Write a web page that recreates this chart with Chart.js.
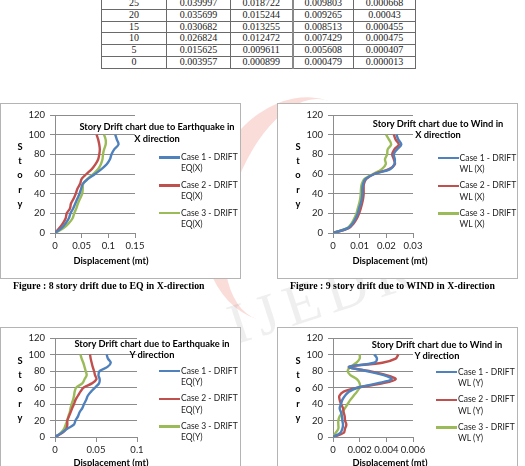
<!DOCTYPE html>
<html>
<head>
<meta charset="utf-8">
<script src="https://cdn.jsdelivr.net/npm/chart.js@4.4.1/dist/chart.umd.min.js"></script>
<style>
  html, body { margin: 0; padding: 0; background: #fff; }
  body { width: 525px; height: 466px; position: relative; overflow: hidden; font-family: Lato, "Open Sans", sans-serif; color: #000; }
  .box { position: absolute; width: 241px; background: #fff; outline: 1px solid #b4b4b4; outline-offset: -1px; }
  .box canvas { position: absolute; left: 0; top: 0; }
  .ttl { position: absolute; font-weight: bold; font-size: 9.3px; line-height: 11.7px; text-align: center; white-space: nowrap; transform: translateX(-50%); }
  .ylab { position: absolute; font-weight: bold; font-size: 9.3px; line-height: 14.2px; text-align: center; width: 10px; margin-left: -5px; }
  .xlab { position: absolute; font-weight: bold; font-size: 9.3px; line-height: 12px; white-space: nowrap; transform: translateX(-50%); }
  .leg { position: absolute; font-size: 8.5px; line-height: 11.3px; }
  .leg .item { position: relative; height: 27.8px; }
  .leg .sw { position: absolute; left: 0; top: 4.4px; width: 21px; height: 2.5px; }
  .leg .tx { position: absolute; left: 22px; top: 0; white-space: nowrap; color: #222; }
  .cap { position: absolute; font-family: "Liberation Serif", serif; font-weight: bold; font-size: 9.8px; white-space: nowrap; line-height: 12px; }
  table.data { position: absolute; left: 101px; top: -3px; border-collapse: collapse; table-layout: fixed; font-family: "Liberation Serif", serif; font-size: 10px; }
  table.data td { border: 1px solid #6a6a6a; height: 10.8px; line-height: 10.8px; padding: 0; text-align: center; color: #222; }
  .wm1 { position: absolute; left: 205px; top: 95px; width: 150px; height: 230px; border-radius: 50%; border-left: 26px solid rgba(232, 96, 84, 0.22); transform: rotate(18deg); }
  .wm2 { position: absolute; left: 225px; top: 262px; font-family: "Liberation Serif", serif; font-size: 58px; color: rgba(120, 120, 120, 0.12); transform: rotate(-18deg); letter-spacing: 8px; }
</style>
</head>
<body>

<div class="wm1"></div>
<div class="wm2">IJEDR</div>

<table class="data" id="tbl">
  <colgroup><col style="width:65px"><col style="width:64px"><col style="width:62px"><col style="width:61px"><col style="width:62px"></colgroup>
  <tbody></tbody>
</table>

<div class="box" id="b1" style="left:0px; top:103px; height:176px;">
  <canvas id="c1" width="241" height="176"></canvas>
  <div class="ttl" style="left:157px; top:18px;">Story Drift chart due to Earthquake in<br>X direction</div>
  <div class="ylab" style="left:20px; top:37px;">S<br>t<br>o<br>r<br>y</div>
  <div class="xlab" style="left:111px; top:152px;">Displacement (mt)</div>
  <div class="leg" id="l1" style="left:159px; top:49px;"></div>
</div>

<div class="box" id="b2" style="left:277px; top:103px; height:176px;">
  <canvas id="c2" width="241" height="176"></canvas>
  <div class="ttl" style="left:161px; top:14.5px;">Story Drift chart due to Wind in<br>X direction</div>
  <div class="ylab" style="left:21px; top:37px;">S<br>t<br>o<br>r<br>y</div>
  <div class="xlab" style="left:113px; top:152px;">Displacement (mt)</div>
  <div class="leg" id="l2" style="left:160.5px; top:49.5px;"></div>
</div>

<div class="cap" style="left:13px; top:280px;">Figure : 8 story drift due to EQ in X-direction</div>
<div class="cap" style="left:290px; top:280px;">Figure : 9 story drift due to WIND in X-direction</div>

<div class="box" id="b3" style="left:0px; top:327px; height:160px;">
  <canvas id="c3" width="241" height="160"></canvas>
  <div class="ttl" style="left:152px; top:10.5px;">Story Drift chart due to Earthquake in<br>Y direction</div>
  <div class="ylab" style="left:20px; top:27px;">S<br>t<br>o<br>r<br>y</div>
  <div class="xlab" style="left:111px; top:130px;">Displacement (mt)</div>
  <div class="leg" id="l3" style="left:159px; top:38.5px;"></div>
</div>

<div class="box" id="b4" style="left:277px; top:327px; height:160px;">
  <canvas id="c4" width="241" height="160"></canvas>
  <div class="ttl" style="left:160px; top:11.5px;">Story Drift chart due to Wind in<br>Y direction</div>
  <div class="ylab" style="left:21px; top:27px;">S<br>t<br>o<br>r<br>y</div>
  <div class="xlab" style="left:113px; top:130px;">Displacement (mt)</div>
  <div class="leg" id="l4" style="left:159px; top:39.5px;"></div>
</div>

<script>
// table rows (top of the page)
const tblStory = ['25', '20', '15', '10', '5', '0'];
const tblCol1 = ['0.039997', '0.035699', '0.030682', '0.026824', '0.015625', '0.003957'];
const tblCol2 = ['0.018722', '0.015244', '0.013255', '0.012472', '0.009611', '0.000899'];
const tblCol3 = ['0.009803', '0.009265', '0.008513', '0.007429', '0.005608', '0.000479'];
const tblCol4 = ['0.000668', '0.00043', '0.000455', '0.000475', '0.000407', '0.000013'];

// story levels (y) shared by all charts
const stories = [0, 5, 10, 15, 20, 25, 30, 35, 40, 45, 50, 55, 60, 65, 70, 75, 80, 85, 90, 95, 100];
const storyTicks = [0, 20, 40, 60, 80, 100, 120];
const caseNames = ['Case 1 - DRIFT', 'Case 2 - DRIFT', 'Case 3 - DRIFT'];
const caseColors = ['#4F81BD', '#C0504D', '#9BBB59'];

// Fig 8 - EQ in X
const eqxTicks = [0, 0.05, 0.1, 0.15];
const eqxCase1 = [0, 0.012, 0.02, 0.026, 0.029, 0.034, 0.038, 0.042, 0.046, 0.049, 0.052, 0.062, 0.075, 0.087, 0.097, 0.103, 0.106, 0.111, 0.119, 0.116, 0.113];
const eqxCase2 = [0, 0.008, 0.015, 0.02, 0.022, 0.028, 0.03, 0.035, 0.039, 0.042, 0.047, 0.05, 0.059, 0.069, 0.076, 0.081, 0.083, 0.084, 0.083, 0.081, 0.078];
const eqxCase3 = [0, 0.016, 0.026, 0.033, 0.036, 0.04, 0.043, 0.047, 0.051, 0.052, 0.053, 0.061, 0.072, 0.081, 0.086, 0.089, 0.09, 0.092, 0.095, 0.095, 0.092];

// Fig 9 - WIND in X
const wlxTicks = [0, 0.01, 0.02, 0.03];
const wlxCase1 = [0, 0.0056, 0.0074, 0.0085, 0.0093, 0.0098, 0.0104, 0.0108, 0.011, 0.011, 0.0113, 0.0122, 0.0155, 0.0215, 0.023, 0.0232, 0.0228, 0.024, 0.0256, 0.0245, 0.0238];
const wlxCase2 = [0, 0.0059, 0.0078, 0.009, 0.0098, 0.0104, 0.0109, 0.0113, 0.0115, 0.0115, 0.0116, 0.0125, 0.0155, 0.021, 0.0232, 0.0228, 0.0222, 0.023, 0.0247, 0.0235, 0.0228];
const wlxCase3 = [0, 0.0053, 0.007, 0.008, 0.0088, 0.0093, 0.0098, 0.0102, 0.0104, 0.0105, 0.0108, 0.0118, 0.015, 0.0183, 0.0198, 0.0195, 0.0203, 0.0205, 0.0218, 0.021, 0.0199];

// EQ in Y
const eqyTicks = [0, 0.05, 0.1];
const eqyCase1 = [0, 0.008, 0.015, 0.023, 0.025, 0.028, 0.03, 0.0333, 0.0354, 0.038, 0.04, 0.044, 0.049, 0.0537, 0.0545, 0.053, 0.0545, 0.064, 0.068, 0.0646, 0.063];
const eqyCase2 = [0, 0.009, 0.0138, 0.015, 0.015, 0.017, 0.019, 0.021, 0.0232, 0.025, 0.028, 0.031, 0.035, 0.045, 0.0505, 0.0488, 0.0476, 0.046, 0.0447, 0.0435, 0.0427];
const eqyCase3 = [0, 0.007, 0.011, 0.013, 0.015, 0.0163, 0.018, 0.019, 0.0203, 0.022, 0.0232, 0.024, 0.026, 0.0333, 0.036, 0.0386, 0.0374, 0.036, 0.0345, 0.0325, 0.031];

// WIND in Y
const wlyTicks = [0, 0.002, 0.004, 0.006];
const wlyCase1 = [0, 0.00055, 0.0007, 0.00075, 0.0007, 0.00068, 0.0006, 0.0005, 0.0006, 0.0007, 0.0009, 0.0012, 0.0019, 0.0033, 0.0044, 0.0038, 0.0025, 0.0012, 0.0031, 0.0033, 0.0031];
const wlyCase2 = [0, 0.0008, 0.0009, 0.001, 0.0009, 0.00088, 0.0008, 0.00075, 0.0006, 0.0005, 0.00048, 0.0008, 0.0019, 0.0037, 0.0047, 0.004, 0.0027, 0.0012, 0.0037, 0.0047, 0.0049];
const wlyCase3 = [0, 0.0002, 0.0004, 0.0004, 0.0004, 0.0005, 0.0007, 0.0009, 0.0011, 0.0013, 0.00155, 0.0018, 0.002, 0.002, 0.0018, 0.0013, 0.0011, 0.0013, 0.00175, 0.002, 0.002];

// fill the table
const tbody = document.querySelector('#tbl tbody');
tblStory.forEach((s, i) => {
  const tr = document.createElement('tr');
  [s, tblCol1[i], tblCol2[i], tblCol3[i], tblCol4[i]].forEach((v, k) => {
    const td = document.createElement('td');
    td.textContent = v;
    if (k === 3) td.style.borderLeft = '2px solid #8a8a8a';
    tr.appendChild(td);
  });
  tbody.appendChild(tr);
});

const tickFont = { family: 'Lato', size: 9.5 };
const axisGray = '#8c8c8c';

function drawChart(canvasId, legendId, xTicks, series, tag, area) {
  const cv = document.getElementById(canvasId);
  const W = cv.width, H = cv.height;
  const datasets = series.map((vals, i) => ({
    label: caseNames[i] + ' ' + tag,
    data: vals.map((v, k) => ({ x: v, y: stories[k] })),
    showLine: true,
    borderColor: caseColors[i],
    backgroundColor: caseColors[i],
    borderWidth: 2.4,
    pointRadius: 0,
    tension: 0.35,
    fill: false
  }));

  new Chart(cv, {
    type: 'scatter',
    data: { datasets: datasets },
    options: {
      responsive: false,
      animation: false,
      layout: { padding: { top: area.top, right: W - area.right, bottom: 0, left: 0 } },
      plugins: { legend: { display: false }, tooltip: { enabled: false } },
      scales: {
        x: {
          type: 'linear',
          min: 0,
          max: xTicks[xTicks.length - 1],
          afterBuildTicks: s => { s.ticks = xTicks.map(v => ({ value: v })); },
          afterFit: s => { s.height = H - area.bottom; },
          grid: { drawOnChartArea: false, tickLength: 5, color: axisGray },
          border: { color: axisGray },
          ticks: { font: tickFont, color: '#222', padding: 2, maxRotation: 0, autoSkip: false, callback: v => String(v) }
        },
        y: {
          type: 'linear',
          min: 0,
          max: 120,
          afterBuildTicks: s => { s.ticks = storyTicks.map(v => ({ value: v })); },
          afterFit: s => { s.width = area.left; },
          grid: { tickLength: 5, color: axisGray },
          border: { color: axisGray },
          ticks: { font: tickFont, color: '#222', padding: 5, callback: v => String(v) }
        }
      }
    }
  });

  // legend at the right, two lines per entry
  const leg = document.getElementById(legendId);
  datasets.forEach((d, i) => {
    const it = document.createElement('div');
    it.className = 'item';
    it.innerHTML = '<span class="sw" style="background:' + d.borderColor + '"></span>' +
      '<span class="tx">' + caseNames[i] + '<br>' + tag + '</span>';
    leg.appendChild(it);
  });
}

drawChart('c1', 'l1', eqxTicks, [eqxCase1, eqxCase2, eqxCase3], 'EQ(X)', { left: 55, right: 135, top: 12, bottom: 130 });
drawChart('c2', 'l2', wlxTicks, [wlxCase1, wlxCase2, wlxCase3], 'WL (X)', { left: 56, right: 136, top: 12, bottom: 130 });
drawChart('c3', 'l3', eqyTicks, [eqyCase1, eqyCase2, eqyCase3], 'EQ(Y)', { left: 55, right: 137, top: 11, bottom: 110 });
drawChart('c4', 'l4', wlyTicks, [wlyCase1, wlyCase2, wlyCase3], 'WL (Y)', { left: 56, right: 136, top: 11, bottom: 110 });
</script>
</body>
</html>
